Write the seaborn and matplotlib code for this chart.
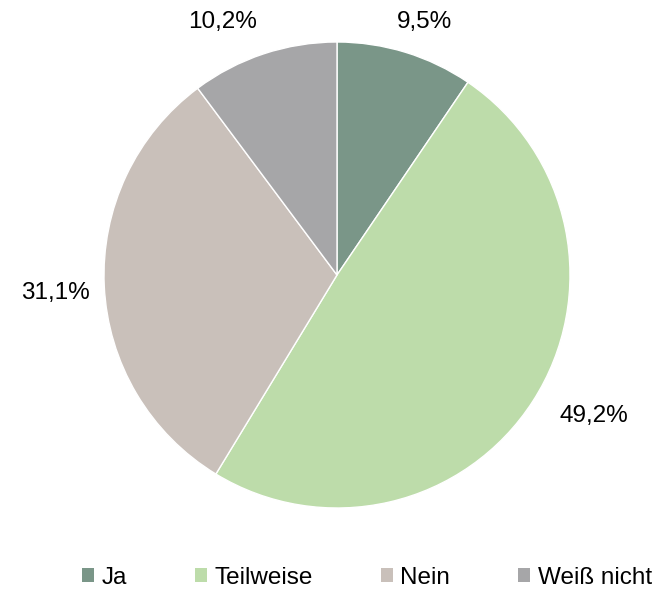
import numpy as np
import matplotlib
matplotlib.use("Agg")
import matplotlib.pyplot as plt
import seaborn as sns
from matplotlib.patches import Patch

categories = ["Ja", "Teilweise", "Nein", "Weiß nicht"]
values = [9.5, 49.2, 31.1, 10.2]
label_texts = ["9,5%", "49,2%", "31,1%", "10,2%"]
colors = ["#7a9688", "#bddcaa", "#c9c0ba", "#a6a6a8"]

sns.set_theme(style="white")
plt.rcParams['font.family'] = ['Liberation Sans', 'DejaVu Sans']

fig = plt.figure(figsize=(6.56, 5.92), dpi=100)
r_px = 233
cx, cy = 337, 275
W, H = 656, 592
ax = fig.add_axes([(cx - r_px) / W, (H - cy - r_px) / H, 2 * r_px / W, 2 * r_px / H])
wedges, _ = ax.pie(values, colors=colors, startangle=90, counterclock=False,
                   wedgeprops=dict(edgecolor="white", linewidth=1), radius=1)
ax.set_xlim(-1, 1)
ax.set_ylim(-1, 1)
ax.set_aspect("equal")

dists = [1.15, 1.26, 1.21, 1.19]
offsets = [-2, 4, 1, 6]
for w, t, d, o in zip(wedges, label_texts, dists, offsets):
    ang = np.deg2rad((w.theta1 + w.theta2) / 2 + o)
    ax.text(d * np.cos(ang), d * np.sin(ang), t, ha="center", va="center",
            fontsize=17.5, color="black", clip_on=False)

handles = [Patch(facecolor=c, edgecolor="none") for c in colors]
fig.legend(handles, categories, loc="center", ncol=4,
           bbox_to_anchor=(367 / W, 1 - 578 / H), frameon=False,
           fontsize=17.5, handlelength=0.5, handleheight=0.5,
           handletextpad=0.3, columnspacing=2.8, labelcolor="black")

fig.savefig("out.png", dpi=100)
